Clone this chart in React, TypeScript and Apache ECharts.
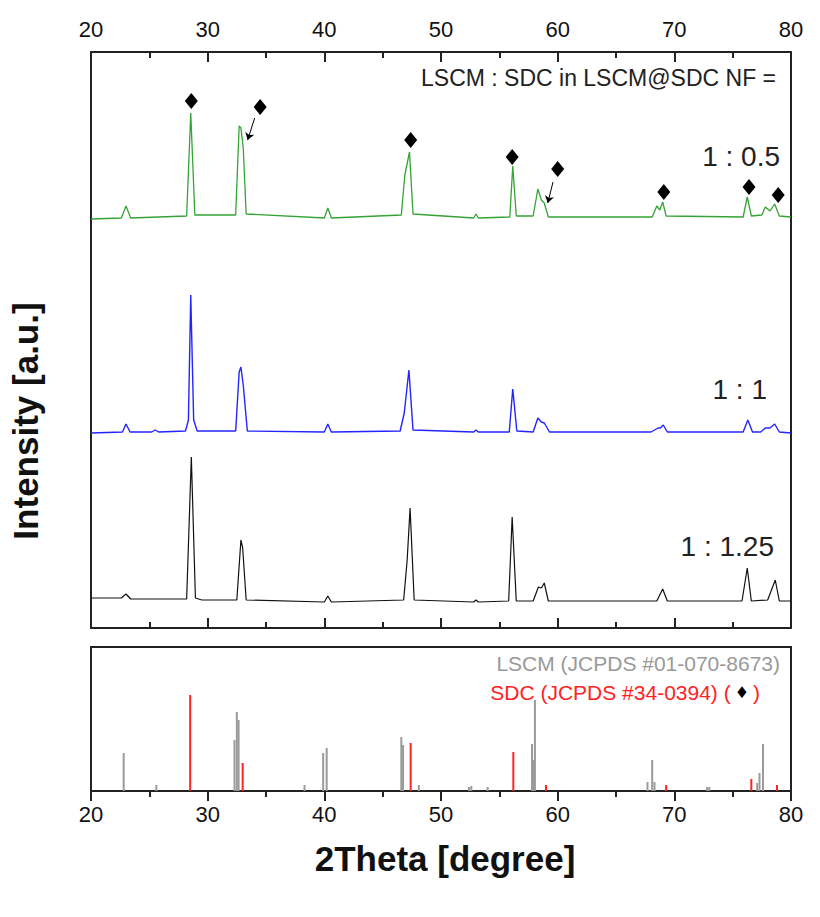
import React, { useEffect, useRef } from "react";
import * as echarts from "echarts";

// 2θ (degree), intensity (a.u.) vertices
const ratio05: number[][] = [
  [20, 409], [22.6, 410], [23.0, 422], [23.4, 410],
  [28.2, 412], [28.55, 515], [28.9, 413],
  [32.4, 413], [32.7, 502], [32.85, 500], [33.05, 480], [33.3, 414],
  [40.0, 410], [40.3, 420], [40.6, 410],
  [46.6, 413], [46.9, 453], [47.3, 476], [47.6, 414],
  [52.8, 410], [53.0, 414], [53.2, 410],
  [55.9, 411], [56.15, 462], [56.45, 412],
  [57.9, 412], [58.3, 439], [58.6, 428], [58.85, 425], [59.2, 411],
  [68.1, 411], [68.5, 422], [68.75, 418], [69.0, 426], [69.3, 412],
  [75.9, 411], [76.25, 431], [76.6, 412],
  [77.5, 413], [77.8, 421], [78.2, 417], [78.6, 424], [79.0, 412], [80, 411],
];

const ratio1: number[][] = [
  [20, 195], [22.7, 196], [23.0, 204], [23.35, 196],
  [25.2, 196], [25.5, 198], [25.8, 196],
  [28.1, 197], [28.35, 208], [28.55, 333], [28.8, 208], [29.1, 197],
  [32.4, 197], [32.7, 256], [32.85, 261], [33.05, 243], [33.4, 197],
  [40.0, 196], [40.3, 204], [40.6, 196],
  [46.5, 197], [46.85, 215], [47.25, 258], [47.6, 198],
  [52.8, 196], [53.0, 198], [53.2, 196],
  [55.85, 196], [56.15, 239], [56.5, 197],
  [57.9, 196], [58.3, 210], [58.6, 206], [58.85, 205], [59.3, 196],
  [68.0, 196], [68.6, 200], [68.8, 200], [69.05, 203], [69.4, 196],
  [75.9, 196], [76.3, 208], [76.7, 196],
  [77.4, 196], [77.8, 200], [78.2, 200], [78.6, 204], [79.0, 196], [80, 195],
];

const ratio125: number[][] = [
  [20, 30], [22.6, 30], [23.0, 34], [23.4, 29], [28.2, 29], [28.6, 171], [28.95, 30],
  [29.5, 28], [32.5, 28], [32.85, 88], [33.0, 80], [33.3, 28],
  [40.0, 26], [40.3, 32], [40.6, 26],
  [46.8, 28], [47.1, 68], [47.35, 120], [47.7, 28],
  [52.8, 26], [53.0, 28], [53.2, 26],
  [55.8, 27], [56.1, 111], [56.45, 27],
  [57.9, 27], [58.35, 41], [58.6, 40], [58.85, 45], [59.2, 27],
  [68.5, 27], [69.0, 39], [69.4, 27],
  [75.8, 27], [76.25, 60], [76.6, 27],
  [78.0, 28], [78.65, 48], [79.0, 27], [80, 27],
];

const sdcMarkers: number[][] = [
  [28.6, 527], [34.5, 521], [47.4, 488], [56.1, 471],
  [60.0, 459], [69.1, 436], [76.4, 441], [78.9, 433],
];

const arrows: number[][][] = [
  [[34.03, 510], [33.43, 488]],
  [[59.6, 446], [59.15, 425]],
];

// reference patterns: 2θ, relative intensity
const lscmRef: number[][] = [
  [22.8, 38], [25.6, 6], [32.3, 51], [32.5, 79], [32.65, 71], [38.3, 6],
  [39.9, 38], [40.2, 43], [46.6, 54], [46.75, 46], [48.1, 6], [52.4, 4],
  [52.6, 5], [54.0, 4], [57.8, 47], [57.9, 31], [58.05, 91], [67.7, 9],
  [68.1, 31], [68.3, 9], [72.8, 4], [73.0, 4], [77.1, 8], [77.3, 18], [77.6, 47],
];

const sdcRef: number[][] = [
  [28.5, 96], [33.0, 28], [47.4, 48], [56.2, 39], [59.0, 6], [69.3, 6], [76.6, 12], [78.8, 6],
];

const xTicks = { min: 20, max: 80, interval: 10 };
const topPanelMax = 576;
const bottomPanelMax = 144;
const ratioLabels = ["1 : 0.5", "1 : 1", "1 : 1.25"];

const FONT = "Liberation Sans, Arial, sans-serif";

function xAxisOpt(gridIndex: number, position: string, ticks: "in" | "out" | "none", labels: boolean) {
  return {
    type: "value",
    gridIndex,
    position,
    min: xTicks.min,
    max: xTicks.max,
    interval: xTicks.interval,
    splitLine: { show: false },
    axisLine: { show: true, onZero: false, lineStyle: { color: "#222", width: 2 } },
    axisTick: {
      show: ticks !== "none",
      inside: ticks === "in",
      length: 10,
      lineStyle: { color: "#222", width: 2 },
    },
    minorTick: {
      show: ticks !== "none",
      splitNumber: 2,
      length: 6,
      lineStyle: { color: "#222", width: 2 },
    },
    axisLabel: labels
      ? { show: true, margin: 12, fontSize: 22, color: "#111", fontFamily: FONT }
      : { show: false },
  };
}

function yAxisOpt(gridIndex: number, position: string, max: number) {
  return {
    type: "value",
    gridIndex,
    position,
    min: 0,
    max,
    axisLine: { show: true, onZero: false, lineStyle: { color: "#222", width: 2 } },
    axisTick: { show: false },
    axisLabel: { show: false },
    splitLine: { show: false },
  };
}

export default function App() {
  const ref = useRef<HTMLDivElement>(null);
  useEffect(() => {
    if (!ref.current) return;
    const chart = echarts.init(ref.current, null, { renderer: "svg" });
    chart.setOption({
      animation: false,
      backgroundColor: "#fff",
      grid: [
        { left: 91, right: 29, top: 52, height: 576 },
        { left: 91, right: 29, top: 647, height: 144 },
      ],
      xAxis: [
        xAxisOpt(0, "bottom", "in", false),
        xAxisOpt(0, "top", "in", true),
        xAxisOpt(1, "bottom", "out", true),
        xAxisOpt(1, "top", "none", false),
      ],
      yAxis: [
        yAxisOpt(0, "left", topPanelMax),
        yAxisOpt(0, "right", topPanelMax),
        yAxisOpt(1, "left", bottomPanelMax),
        yAxisOpt(1, "right", bottomPanelMax),
      ],
      series: [
        {
          name: ratioLabels[0], type: "line", xAxisIndex: 0, yAxisIndex: 0, data: ratio05,
          showSymbol: false, symbol: "none", lineStyle: { color: "#35a335", width: 1.3 },
        },
        {
          name: ratioLabels[1], type: "line", xAxisIndex: 0, yAxisIndex: 0, data: ratio1,
          showSymbol: false, symbol: "none", lineStyle: { color: "#2424ff", width: 1.4 },
        },
        {
          name: ratioLabels[2], type: "line", xAxisIndex: 0, yAxisIndex: 0, data: ratio125,
          showSymbol: false, symbol: "none", lineStyle: { color: "#111", width: 1.2 },
        },
        {
          type: "scatter", xAxisIndex: 0, yAxisIndex: 0, data: sdcMarkers,
          symbol: "diamond", symbolSize: [13, 16],
          itemStyle: { color: "#000", opacity: 1 }, z: 5,
        },
        {
          type: "lines", coordinateSystem: "cartesian2d", xAxisIndex: 0, yAxisIndex: 0,
          data: arrows.map((c) => ({ coords: c })),
          symbol: ["none", "arrow"], symbolSize: 7,
          lineStyle: { color: "#000", width: 1, opacity: 1 }, z: 5,
        },
        {
          type: "bar", xAxisIndex: 2, yAxisIndex: 2, data: lscmRef,
          barWidth: 2, barGap: "-100%", itemStyle: { color: "#9a9a9a" },
        },
        {
          type: "bar", xAxisIndex: 2, yAxisIndex: 2, data: sdcRef,
          barWidth: 2, barGap: "-100%", itemStyle: { color: "#ff2222" },
        },
      ],
      graphic: [
        {
          type: "text", right: 820 - 776, top: 79 - 13,
          style: { text: "LSCM : SDC in LSCM@SDC NF =", fontSize: 23, fill: "#222", fontFamily: FONT },
        },
        {
          type: "text", right: 820 - 780, top: 158 - 16,
          style: { text: ratioLabels[0], fontSize: 28, fill: "#222", fontFamily: FONT },
        },
        {
          type: "text", right: 820 - 767, top: 391 - 16,
          style: { text: ratioLabels[1], fontSize: 28, fill: "#222", fontFamily: FONT },
        },
        {
          type: "text", right: 820 - 774, top: 548 - 16,
          style: { text: ratioLabels[2], fontSize: 28, fill: "#222", fontFamily: FONT },
        },
        {
          type: "text", right: 820 - 780, top: 665 - 12,
          style: { text: "LSCM (JCPDS #01-070-8673)", fontSize: 21, fill: "#999", fontFamily: FONT },
        },
        {
          type: "text", right: 820 - 760, top: 694 - 12,
          style: {
            text: "{r|SDC (JCPDS #34-0394) (}{d|♦}{r|)}",
            fontFamily: FONT,
            rich: {
              r: { fontSize: 21, fill: "#ff2222", fontFamily: FONT },
              d: { fontSize: 16, fill: "#000", fontFamily: "DejaVu Sans", padding: [0, 4, 0, 4] },
            },
          },
        },
        {
          type: "text", x: 445, y: 858,
          style: {
            text: "2Theta [degree]", fontSize: 35, fontWeight: "bold", fill: "#111",
            fontFamily: FONT, align: "center", verticalAlign: "middle",
          },
        },
        {
          type: "text", x: 25, y: 421, rotation: Math.PI / 2,
          style: {
            text: "Intensity [a.u.]", fontSize: 35, fontWeight: "bold", fill: "#111",
            fontFamily: FONT, align: "center", verticalAlign: "middle",
          },
        },
      ],
    });
    return () => chart.dispose();
  }, []);
  return <div ref={ref} style={{ width: 820, height: 917, margin: -8 }} />;
}
